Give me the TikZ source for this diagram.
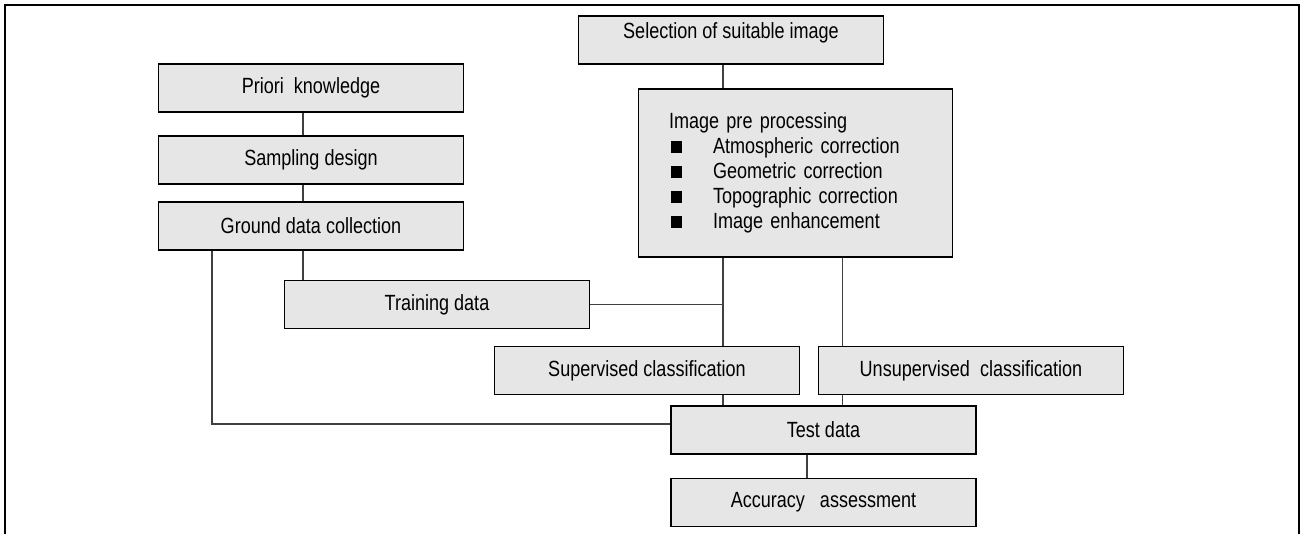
\documentclass[tikz,border=0pt]{standalone}
\usepackage{fontspec}
\setmainfont{Liberation Sans}[FakeStretch=0.82]
\usetikzlibrary{positioning}
\usetikzlibrary{calc}
\definecolor{boxgray}{HTML}{E6E6E6}
\definecolor{linkgray}{HTML}{404040}
\tikzset{
    flow chart/.style={
            x=0.75pt,y=-0.75pt,
            font=\fontsize{16.5}{18.75}\selectfont,
            stage/.style={draw=black,line width=1pt,fill=boxgray,minimum width=228.75pt,minimum height=36pt,inner sep=0pt},
            link/.style={draw=linkgray,line width=0.8pt},
            frame/.style={line width=1.5pt}
        }
    }
\newcommand{\blt}{\hspace*{1.5pt}\makebox[31.5pt][l]{\rule[0.8pt]{8.5pt}{8.5pt}}}

\begin{document}
\begin{tikzpicture}[flow chart]
    \useasboundingbox (0,0) rectangle (1303,533);
    \draw [frame] (5,536) -- (5,5) -- (1299,5) -- (1299,536);
    % left column
    \node [stage] (prior) at (311,88) {Priori~~knowledge};
    \node [stage] (sampling) at (311,160) {Sampling design};
    \node [stage] (ground) at (311,226) {Ground data collection};
    \node [stage] (training) at (437,304.5) {Training data};
    % image branch
    \node [stage,text height=16.9pt,text depth=19.1pt] (selection) at (731,40) {Selection of suitable image};
    \node [stage,minimum height=126pt,text width=189.75pt,inner xsep=22.875pt,align=left] (preproc) at (795.5,173)
        {Image pre processing\\
         \blt Atmospheric correction\\
         \blt Geometric correction\\
         \blt Topographic correction\\
         \blt Image enhancement};
    \node [stage] (supervised) at (647,370.5) {Supervised classification};
    \node [stage] (unsupervised) at (971,370.5) {Unsupervised~~classification};
    \node [stage] (test) at (823.5,430) {Test data};
    \node [stage] (accuracy) at (823.5,502.5) {Accuracy~~~assessment};
    % columns of the links
    \coordinate (leftx) at (212,0);
    \coordinate (midx) at (303,0);
    \coordinate (imgx) at (723,0);
    \coordinate (unsx) at (842.5,0);
    \coordinate (accx) at (807,0);
    \draw [link] (prior.south -| midx) -- (sampling.north -| midx);
    \draw [link] (sampling.south -| midx) -- (ground.north -| midx);
    \draw [link] (ground.south -| midx) -- (training.north -| midx);
    \draw [link] (ground.south -| leftx) |- ([yshift=4.5pt]test.west);
    \draw [link] (selection.south -| imgx) -- (preproc.north -| imgx);
    \draw [link] (preproc.south -| imgx) -- (supervised.north -| imgx);
    \draw [link] (training.east) -- (training.east -| imgx);
    \draw [link] (preproc.south -| unsx) -- (unsupervised.north -| unsx);
    \draw [link] (supervised.south -| imgx) -- (test.north -| imgx);
    \draw [link] (unsupervised.south -| unsx) -- (test.north -| unsx);
    \draw [link] (test.south -| accx) -- (accuracy.north -| accx);
\end{tikzpicture}
\end{document}
